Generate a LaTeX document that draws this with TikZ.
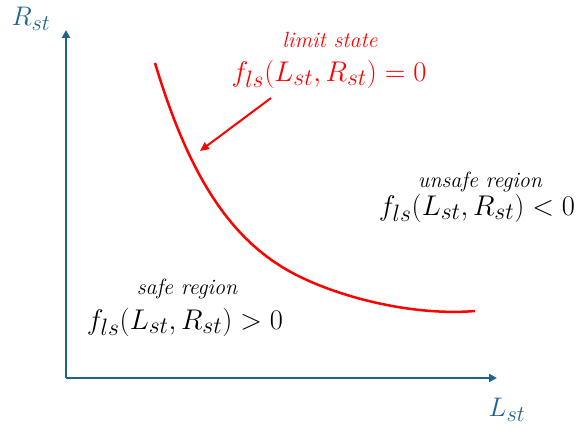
\documentclass[tikz,border=0pt]{standalone}
\usetikzlibrary{arrows.meta}
\definecolor{axisblue}{RGB}{31,100,140}
\definecolor{limred}{RGB}{255,0,0}
\newcommand{\flsform}[1]{\scalebox{1.145}{$f_{ls}(L_{st},R_{st})#1 0$}}
\newcommand{\axlabel}[1]{\scalebox{1.08}{$#1$}}
\begin{document}
\begin{tikzpicture}[x=1pt,y=-1pt,
  axis/.style={draw=axisblue,line width=2pt,-{Triangle[length=8pt,width=8pt]}},
  lbl/.style={inner sep=0pt,font=\fontsize{24.88}{28}\selectfont},
  small/.style={inner sep=0pt,font=\fontsize{22}{25}\selectfont\itshape},
  formula/.style={inner sep=0pt,font=\fontsize{24.88}{30}\selectfont}]
\useasboundingbox (0,0) rectangle (576,430);
\coordinate (O) at (66,378);
\coordinate (ytip) at (66,30);
\coordinate (xtip) at (497,378);
\draw[axis] (O) -- (ytip);
\draw[axis] (O) -- (xtip);
\node[lbl,text=axisblue] (R) at (31,19) {\axlabel{R_{st}}};
\node[lbl,text=axisblue] (L) at (507,410) {\axlabel{L_{st}}};
\coordinate (c0) at (155,63);
\coordinate (c1) at (300,276.8);
\coordinate (c2) at (475,311);
\draw[limred,line width=2.5pt] (c0) .. controls (190.3,180.6) and (233.8,244.7) .. (c1) .. controls (351.9,301.9) and (421.9,315.6) .. (c2);
\node[small,text=limred] (ls) at (330,40) {limit state};
\node[formula,text=limred] (lsf) at (329,74) {\flsform{=}};
\coordinate (atip) at (200,151);
\coordinate (astart) at (271,98);
\draw[limred,line width=2pt,-{Triangle[length=9pt,width=8pt]}] (astart) -- (atip);
\node[small] (us) at (480,182) {unsafe region};
\node[formula] (usf) at (477,208) {\flsform{<}};
\node[small] (sr) at (187,289) {safe region};
\node[formula] (srf) at (185,322) {\flsform{>}};
\end{tikzpicture}
\end{document}
